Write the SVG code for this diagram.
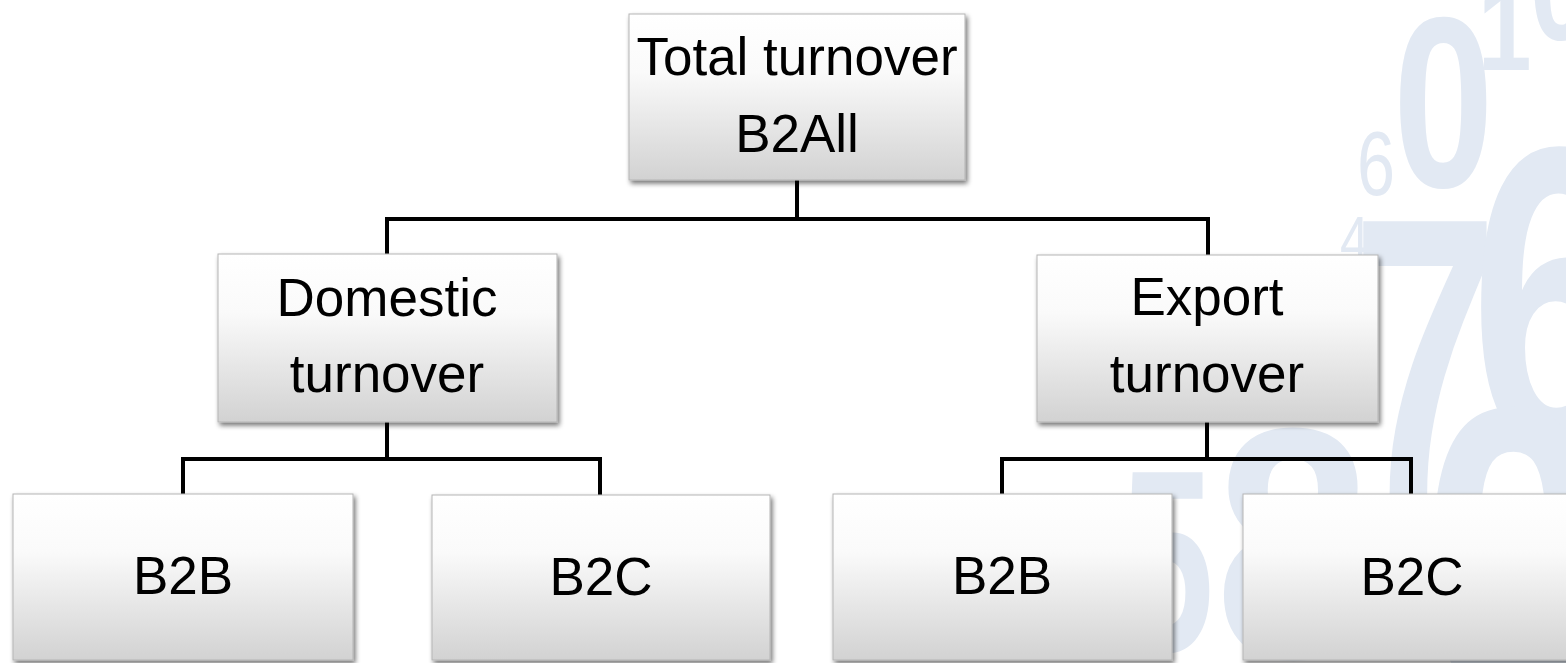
<svg xmlns="http://www.w3.org/2000/svg" width="1566" height="663" viewBox="0 0 1566 663">
  <style>
    .box { fill: url(#boxGrad); stroke: #b5b5b5; stroke-width: 1; filter: url(#shadow); }
    .lbl { font-family: "Liberation Sans", Arial, sans-serif; font-size: 53px; fill: #000; text-anchor: middle; }
    .bgd { font-family: "Liberation Sans", Arial, sans-serif; fill: #e2e9f3; }
    .bgb { font-weight: bold; }
    .conn { fill: none; stroke: #000; stroke-width: 4; stroke-linejoin: miter; stroke-linecap: butt; }
  </style>
  <defs>
    <linearGradient id="boxGrad" x1="0" y1="0" x2="0" y2="1">
      <stop offset="0" stop-color="#ffffff"/>
      <stop offset="0.35" stop-color="#fafafa"/>
      <stop offset="1" stop-color="#d2d2d2"/>
    </linearGradient>
    <filter id="shadow" x="-5%" y="-5%" width="112%" height="115%">
      <feGaussianBlur in="SourceAlpha" stdDeviation="2.5"/>
      <feOffset dx="2" dy="3" result="b"/>
      <feComponentTransfer><feFuncA type="linear" slope="0.55"/></feComponentTransfer>
      <feMerge><feMergeNode/><feMergeNode in="SourceGraphic"/></feMerge>
    </filter>
  </defs>

  <rect width="1566" height="663" fill="#ffffff"/>

  <g id="background">
    <text class="bgd bgb" transform="translate(1393,187) scale(0.745,1)" font-size="243">0</text>
    <text class="bgd" transform="translate(1357,195) scale(0.76,1)" font-size="90">6</text>
    <text class="bgd bgb" transform="translate(1478,70) scale(0.8,1)" font-size="120">1</text>
    <text class="bgd bgb" transform="translate(1530,40) scale(0.75,1)" font-size="150">0</text>
    <text class="bgd" transform="translate(1340,262) scale(0.8,1)" font-size="65">4</text>
    <text class="bgd bgb" transform="translate(1352,495) scale(0.66,1)" font-size="398">7</text>
    <text class="bgd bgb" transform="translate(1470,450) scale(0.7,1)" font-size="435">6</text>
    <text class="bgd bgb" transform="translate(1420,700) scale(0.8,1)" font-size="420">0</text>
    <text class="bgd bgb" transform="translate(1120,651) scale(0.65,1)" font-size="260">5</text>
    <text class="bgd bgb" transform="translate(1215,658) scale(0.85,1)" font-size="330">8</text>
  </g>

  <g id="connectors">
    <path class="conn" d="M797 180 V219"/>
    <path class="conn" d="M387 254 V219 H1208 V255"/>
    <path class="conn" d="M387 422 V459"/>
    <path class="conn" d="M183 494 V459 H600 V495"/>
    <path class="conn" d="M1207 422 V459"/>
    <path class="conn" d="M1002 494 V459 H1411 V494"/>
  </g>

  <g id="total">
    <rect class="box" x="629" y="14" width="336" height="166"/>
    <text class="lbl" x="797" y="75">Total turnover</text>
    <text class="lbl" x="797" y="152">B2All</text>
  </g>

  <g id="domestic">
    <rect class="box" x="218" y="254" width="339" height="168"/>
    <text class="lbl" x="387" y="316">Domestic</text>
    <text class="lbl" x="387" y="392">turnover</text>
  </g>

  <g id="export">
    <rect class="box" x="1037" y="255" width="341" height="167"/>
    <text class="lbl" x="1207" y="315">Export</text>
    <text class="lbl" x="1207" y="392">turnover</text>
  </g>

  <g id="dom-b2b">
    <rect class="box" x="13" y="494" width="340" height="166"/>
    <text class="lbl" x="183" y="594">B2B</text>
  </g>

  <g id="dom-b2c">
    <rect class="box" x="432" y="495" width="338" height="165"/>
    <text class="lbl" x="601" y="595">B2C</text>
  </g>

  <g id="exp-b2b">
    <rect class="box" x="833" y="494" width="339" height="166"/>
    <text class="lbl" x="1002" y="594">B2B</text>
  </g>

  <g id="exp-b2c">
    <rect class="box" x="1243" y="494" width="340" height="166"/>
    <text class="lbl" x="1412" y="595">B2C</text>
  </g>
</svg>
